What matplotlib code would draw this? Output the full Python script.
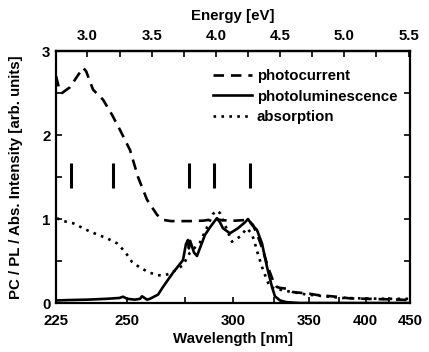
import numpy as np
import matplotlib
matplotlib.use("Agg")
import matplotlib.pyplot as plt
from matplotlib.ticker import MultipleLocator, FixedLocator

plt.rcParams['font.family'] = ['Liberation Sans', 'DejaVu Sans']
plt.rcParams['font.weight'] = 'bold'
plt.rcParams['axes.labelweight'] = 'bold'

# photocurrent (energy eV, intensity)
pc_e = [2.756, 2.779, 2.803, 2.865, 2.904, 2.966, 2.990, 3.044, 3.122, 3.192, 3.254, 3.332,
        3.394, 3.464, 3.542, 3.588, 3.65, 3.80, 3.90, 3.993, 4.05, 4.15, 4.25, 4.289, 4.328,
        4.366, 4.405, 4.444, 4.475, 4.499, 4.553, 4.60, 4.732, 4.787, 4.864, 4.966, 5.043,
        5.176, 5.432, 5.51]
pc_y = [2.70, 2.56, 2.50, 2.57, 2.66, 2.80, 2.76, 2.54, 2.42, 2.24, 2.06, 1.82,
        1.50, 1.23, 1.05, 0.99, 0.975, 0.975, 0.98, 1.00, 0.985, 0.98, 0.99, 0.93, 0.79,
        0.63, 0.43, 0.27, 0.19, 0.18, 0.17, 0.13, 0.11, 0.095, 0.085, 0.07, 0.055,
        0.05, 0.04, 0.035]

# photoluminescence
pl_e = [2.756, 2.85, 3.0, 3.15, 3.25, 3.277, 3.31, 3.37, 3.41, 3.425, 3.445, 3.464, 3.487,
        3.55, 3.588, 3.666, 3.744, 3.767, 3.783, 3.79, 3.80, 3.83, 3.853, 3.915, 3.954,
        3.993, 4.009, 4.032, 4.055, 4.11, 4.172, 4.226, 4.250, 4.281, 4.32, 4.359, 4.398,
        4.437, 4.46, 4.50, 4.55, 4.65, 5.51]
pl_y = [0.03, 0.035, 0.04, 0.05, 0.06, 0.075, 0.05, 0.04, 0.05, 0.08, 0.06, 0.04, 0.05,
        0.10, 0.19, 0.36, 0.51, 0.70, 0.75, 0.65, 0.74, 0.60, 0.56, 0.81, 0.90,
        0.98, 1.01, 0.96, 0.89, 0.83, 0.89, 0.96, 1.00, 0.93, 0.87, 0.71, 0.43,
        0.19, 0.08, 0.03, 0.01, 0.0, 0.0]

# absorption
ab_e = [2.764, 2.80, 2.888, 3.021, 3.153, 3.231, 3.293, 3.347, 3.410, 3.487, 3.55, 3.60,
        3.643, 3.697, 3.744, 3.798, 3.876, 3.931, 3.977, 4.009, 4.032, 4.071, 4.125, 4.188,
        4.242, 4.281, 4.304, 4.320, 4.359, 4.398, 4.421, 4.522, 4.709, 4.99, 5.30, 5.456, 5.51]
ab_y = [1.01, 0.98, 0.95, 0.85, 0.77, 0.71, 0.61, 0.49, 0.42, 0.36, 0.33, 0.33,
        0.35, 0.40, 0.45, 0.60, 0.72, 0.90, 1.06, 1.10, 1.07, 0.93, 0.73, 0.79,
        0.89, 0.82, 0.71, 0.62, 0.43, 0.27, 0.19, 0.15, 0.10, 0.06, 0.05, 0.05, 0.05]

# marker bars (energy)
bar_e = [2.873, 3.199, 3.791, 3.985, 4.265]
bar_lo, bar_hi = 1.37, 1.67

energy_ticks = [3.0, 3.5, 4.0, 4.5, 5.0, 5.5]
wl_labels = [225, 250, 300, 350, 400, 450]
wl_minor = [275, 325, 375, 425]

fig = plt.figure(figsize=(4.29, 3.52), dpi=100)
ax = fig.add_axes([0.1305, 0.1392, 0.8252, 0.7159])

xlo, xhi = 1240 / 450, 1240 / 225
lw = 1.9
ax.plot(pc_e, pc_y, color='black', lw=lw, ls=(0, (4, 2.6)), label='photocurrent')
ax.plot(pl_e, pl_y, color='black', lw=lw, ls='-', label='photoluminescence')
ax.plot(ab_e, ab_y, color='black', lw=lw, ls=(0, (1, 2.0)), label='absorption')
ax.vlines(bar_e, bar_lo, bar_hi, color='black', lw=2.2)

ax.set_xlim(xlo, xhi)
ax.set_ylim(0, 3)

fs = 10.8
# bottom wavelength axis (mirrored mapping)
pos = [xlo + xhi - 1240 / w for w in wl_labels]
ax.xaxis.set_major_locator(FixedLocator(pos))
ax.set_xticklabels([str(w) for w in wl_labels], fontsize=fs)
ax.xaxis.set_minor_locator(FixedLocator([xlo + xhi - 1240 / w for w in wl_minor]))
ax.set_xlabel('Wavelength [nm]', fontsize=fs, labelpad=3)

ax.yaxis.set_minor_locator(MultipleLocator(0.5))
ax.set_yticks([0, 1, 2, 3])
ax.set_yticklabels(['0', '1', '2', '3'], fontsize=fs)
ax.set_ylabel('PC / PL / Abs. Intensity [arb. units]', fontsize=fs, labelpad=14)
ax.tick_params(axis='both', which='both', direction='in', length=4, width=1.2,
               top=False, right=True)
ax.tick_params(axis='x', which='both', pad=8)
ax.tick_params(axis='y', which='both', pad=4)

top = ax.secondary_xaxis('top')
top.set_xticks(energy_ticks)
top.set_xticklabels([f'{e:.1f}' for e in energy_ticks], fontsize=fs)
top.xaxis.set_minor_locator(MultipleLocator(0.25))
top.tick_params(axis='x', which='both', direction='in', length=4, width=1.2, pad=6)
top.set_xlabel('Energy [eV]', fontsize=fs, labelpad=6)
for s in top.spines.values():
    s.set_linewidth(1.6)

for s in ax.spines.values():
    s.set_linewidth(1.6)

leg = ax.legend(loc='upper left', bbox_to_anchor=(0.4435, 0.928), frameon=False, fontsize=fs,
                handlelength=2.6, handletextpad=0.33, labelspacing=0.43,
                borderaxespad=0.0, borderpad=0.0)

fig.savefig('out.png', dpi=100)
